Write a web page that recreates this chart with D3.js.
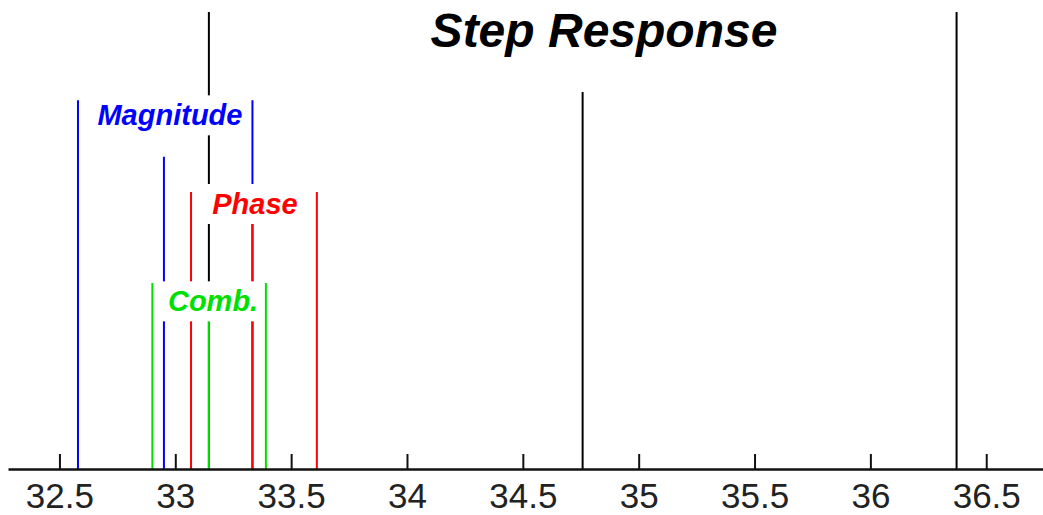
<!DOCTYPE html>
<html>
<head>
<meta charset="utf-8">
<script src="https://cdnjs.cloudflare.com/ajax/libs/d3/7.8.5/d3.min.js"></script>
<style>
  html, body { margin: 0; padding: 0; background: #fff; }
  svg { display: block; }
  .label { font-family: "Liberation Sans", Arial, sans-serif; font-weight: bold; font-style: italic; }
</style>
</head>
<body>
<svg id="mainChart" width="1043" height="515"></svg>
<script>
var title = "Step Response";
var tickValues = [32.5, 33, 33.5, 34, 34.5, 35, 35.5, 36, 36.5];

// stems: position and height (height 1 = full)
var blackX = [33.145, 34.758, 36.372];
var blackH = [1, 0.825, 1];
var magX = [32.580, 32.951, 33.333];
var magH = [0.807, 0.683, 0.807];
var phaseX = [33.068, 33.333, 33.611];
var phaseH = [0.606, 0.58, 0.606];
var combX = [32.901, 33.145, 33.391];
var combH = [0.407, 0.36, 0.407];

var groups = [
  { name: "Magnitude", color: "#0000ff", xs: magX, hs: magH, lx: 32.977, ly: 0.752 },
  { name: "Phase", color: "#ff0000", xs: phaseX, hs: phaseH, lx: 33.344, ly: 0.558 },
  { name: "Comb.", color: "#00e000", xs: combX, hs: combH, lx: 33.163, ly: 0.345 }
];

var svg = d3.select("#mainChart"),
  width = +svg.attr("width"),
  height = +svg.attr("height");

var x = d3.scaleLinear().domain([32.278, 36.745]).range([8, 1043]);
var y = d3.scaleLinear().domain([0, 1]).range([469, 12]);

function drawStems(xs, hs, color) {
  svg.append("g")
    .selectAll("line")
    .data(xs)
    .enter()
    .append("line")
    .attr("x1", function(d) { return x(d); })
    .attr("x2", function(d) { return x(d); })
    .attr("y1", y(0))
    .attr("y2", function(d, i) { return y(hs[i]); })
    .attr("stroke", color)
    .attr("stroke-width", 2);
}

function drawLabel(g) {
  var lg = svg.append("g");
  var bg = lg.append("rect").attr("fill", "#fff");
  var t = lg.append("text")
    .attr("class", "label")
    .attr("x", x(g.lx))
    .attr("y", y(g.ly))
    .attr("text-anchor", "middle")
    .attr("font-size", 29)
    .attr("fill", g.color)
    .text(g.name);
  var b = t.node().getBBox();
  bg.attr("x", b.x - 6)
    .attr("y", b.y - 4)
    .attr("width", b.width + 12)
    .attr("height", b.height + 8);
}

drawStems(blackX, blackH, "#000");
groups.forEach(function(g) {
  drawStems(g.xs, g.hs, g.color);
  drawLabel(g);
});

// axis
var axis = d3.axisBottom(x)
  .tickValues(tickValues)
  .tickFormat(d3.format(""))
  .tickSizeInner(-15)
  .tickSizeOuter(0)
  .tickPadding(14);

var ax = svg.append("g")
  .attr("transform", "translate(0," + y(0) + ")")
  .call(axis);
ax.select(".domain").attr("stroke", "#111").attr("stroke-width", 2.5);
ax.selectAll(".tick line").attr("stroke", "#111").attr("stroke-width", 2);
ax.selectAll(".tick text")
  .attr("font-family", "'Liberation Sans', Arial, sans-serif")
  .attr("font-size", 35)
  .attr("fill", "#222");

svg.append("text")
  .attr("class", "label")
  .attr("x", 604)
  .attr("y", 47)
  .attr("text-anchor", "middle")
  .attr("font-size", 48)
  .attr("fill", "#000")
  .text(title);
</script>
</body>
</html>
